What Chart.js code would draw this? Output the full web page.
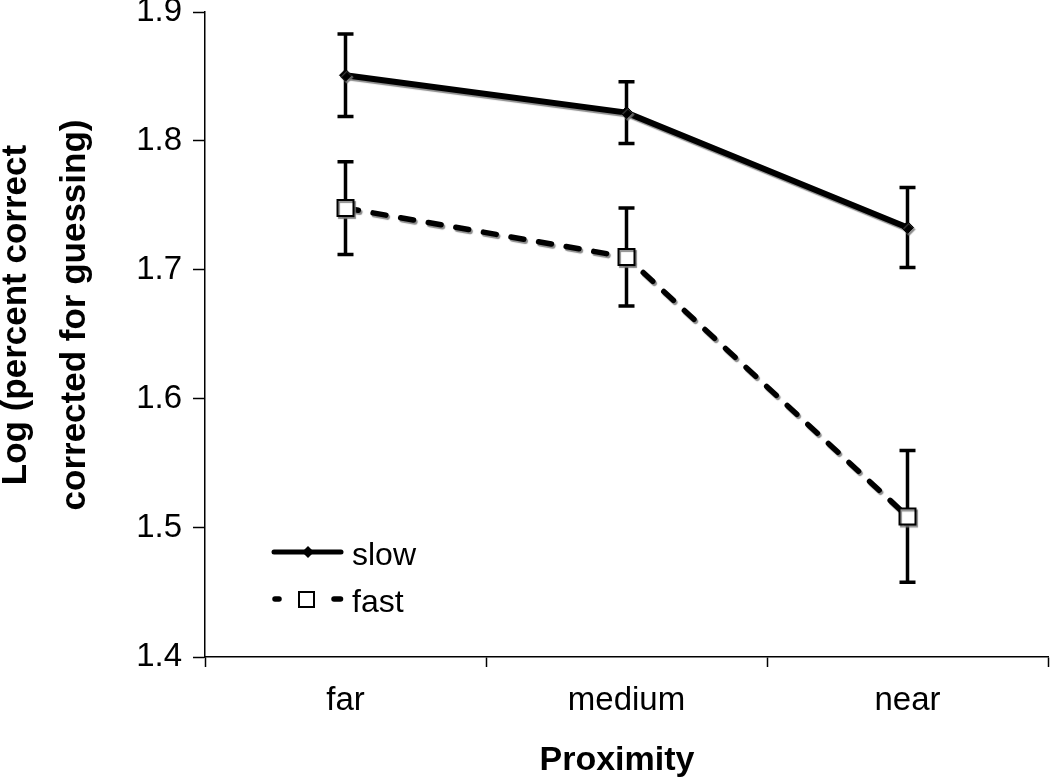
<!DOCTYPE html>
<html><head><meta charset="utf-8">
<script src="https://cdn.jsdelivr.net/npm/chart.js"></script>
<style>html,body{margin:0;padding:0;background:#fff;} #wrap{width:1050px;height:781px;}</style>
</head><body><div id="wrap"><canvas id="c" width="1050" height="781"></canvas></div>
<script>
const categories = ['far', 'medium', 'near'];
const seriesNames = ['slow', 'fast'];
const slowValues = [1.851, 1.822, 1.733];
const slowErrors = [0.032, 0.024, 0.031];
const fastValues = [1.748, 1.710, 1.509];
const fastErrors = [0.036, 0.038, 0.051];
const yTicks = [1.4, 1.5, 1.6, 1.7, 1.8, 1.9];
const xTitle = 'Proximity';
const yTitleLines = ['Log (percent correct', 'corrected for guessing)'];

const FONT = '"Liberation Sans", Arial, Helvetica, sans-serif';

const errorBars = {
  id: 'errorBars',
  beforeDatasetsDraw(chart) {
    const ctx = chart.ctx, ys = chart.scales.y;
    chart.data.datasets.forEach((ds, i) => {
      const meta = chart.getDatasetMeta(i);
      ctx.save();
      ctx.strokeStyle = '#000';
      ctx.lineWidth = 3.5;
      meta.data.forEach((pt, j) => {
        const v = ds.data[j], e = ds.errors[j];
        const x = pt.x, yt = ys.getPixelForValue(v + e), yb = ys.getPixelForValue(v - e);
        ctx.beginPath();
        ctx.moveTo(x, yt); ctx.lineTo(x, yb);
        ctx.moveTo(x - 8, yt); ctx.lineTo(x + 8, yt);
        ctx.moveTo(x - 8, yb); ctx.lineTo(x + 8, yb);
        ctx.stroke();
      });
      ctx.restore();
    });
  }
};

const shadow = {
  id: 'shadow',
  beforeDatasetDraw(chart) {
    const ctx = chart.ctx;
    ctx.save();
    ctx.shadowColor = 'rgba(120,120,120,0.85)';
    ctx.shadowOffsetX = 1.5;
    ctx.shadowOffsetY = 2;
    ctx.shadowBlur = 1;
  },
  afterDatasetDraw(chart) { chart.ctx.restore(); }
};

const titlesAndLegend = {
  id: 'titlesAndLegend',
  afterDraw(chart) {
    const ctx = chart.ctx;
    ctx.save();
    ctx.fillStyle = '#000';
    ctx.font = 'bold 34px ' + FONT;
    ctx.textAlign = 'center';
    ctx.textBaseline = 'alphabetic';
    ctx.fillText(xTitle, 617, 770);
    ctx.font = 'bold 35px ' + FONT;
    const bases = [26, 85];
    yTitleLines.forEach((t, i) => {
      ctx.save();
      ctx.translate(bases[i], 315);
      ctx.rotate(-Math.PI / 2);
      ctx.fillText(t, 0, 0);
      ctx.restore();
    });
    const ds = chart.data.datasets;
    ctx.font = '32px ' + FONT;
    ctx.textAlign = 'left';
    ctx.strokeStyle = '#000';
    ctx.lineCap = 'round';
    ctx.lineWidth = 5;
    ctx.beginPath(); ctx.moveTo(274, 552); ctx.lineTo(341, 552); ctx.stroke();
    ctx.beginPath();
    ctx.moveTo(308, 546); ctx.lineTo(314, 552); ctx.lineTo(308, 558); ctx.lineTo(302, 552); ctx.closePath();
    ctx.fill();
    ctx.fillText(ds[0].label, 352, 565);
    ctx.lineWidth = 5.5;
    ctx.beginPath(); ctx.moveTo(275, 599); ctx.lineTo(279, 599); ctx.stroke();
    ctx.beginPath(); ctx.moveTo(334, 599); ctx.lineTo(340.5, 599); ctx.stroke();
    ctx.lineWidth = 2;
    ctx.fillStyle = '#fff';
    ctx.fillRect(299, 592, 15, 15);
    ctx.strokeRect(299, 592, 15, 15);
    ctx.fillStyle = '#000';
    ctx.fillText(ds[1].label, 352, 612);
    ctx.restore();
  }
};

new Chart(document.getElementById('c'), {
  type: 'line',
  data: {
    labels: categories,
    datasets: [
      {
        label: seriesNames[0], data: slowValues, errors: slowErrors,
        borderColor: '#000', backgroundColor: '#000', borderWidth: 6,
        pointStyle: 'rectRot', pointRadius: 6, pointBackgroundColor: '#000', pointBorderColor: '#000', pointBorderWidth: 1,
        tension: 0, fill: false
      },
      {
        label: seriesNames[1], data: fastValues, errors: fastErrors,
        borderColor: '#000', backgroundColor: '#fff', borderWidth: 5.5,
        borderDash: [13, 15], borderCapStyle: 'round',
        pointStyle: 'rect', pointRadius: 11.3, pointBackgroundColor: '#fff', pointBorderColor: '#000', pointBorderWidth: 2,
        tension: 0, fill: false
      }
    ]
  },
  options: {
    responsive: false,
    animation: false,
    devicePixelRatio: 1,
    layout: { autoPadding: false, padding: { top: 12, right: 2, left: 0, bottom: 0 } },
    plugins: { legend: { display: false }, tooltip: { enabled: false } },
    scales: {
      x: {
        type: 'category',
        offset: true,
        grid: { offset: true, drawOnChartArea: false, drawTicks: true, tickLength: 10, color: '#000', tickWidth: 1.5 },
        border: { display: true, color: '#000', width: 1.5 },
        ticks: { color: '#000', font: { family: FONT, size: 33, lineHeight: 1.2 }, padding: 14, maxRotation: 0 },
        afterFit(s) { s.height = 124; s.paddingLeft = 0; s.paddingRight = 0; }
      },
      y: {
        min: 1.4, max: 1.9,
        afterBuildTicks(s) { s.ticks = yTicks.map(v => ({ value: v })); },
        grid: { drawOnChartArea: false, drawTicks: true, tickLength: 12, color: '#000', tickWidth: 1.5 },
        border: { display: true, color: '#000', width: 1.5 },
        ticks: { color: '#000', font: { family: FONT, size: 33, lineHeight: 0.75 }, padding: 11,
          callback: v => Number(v).toFixed(1) },
        afterFit(s) { s.width = 205; s.paddingTop = 0; s.paddingBottom = 0; }
      }
    }
  },
  plugins: [errorBars, shadow, titlesAndLegend]
});
</script>
</body></html>
